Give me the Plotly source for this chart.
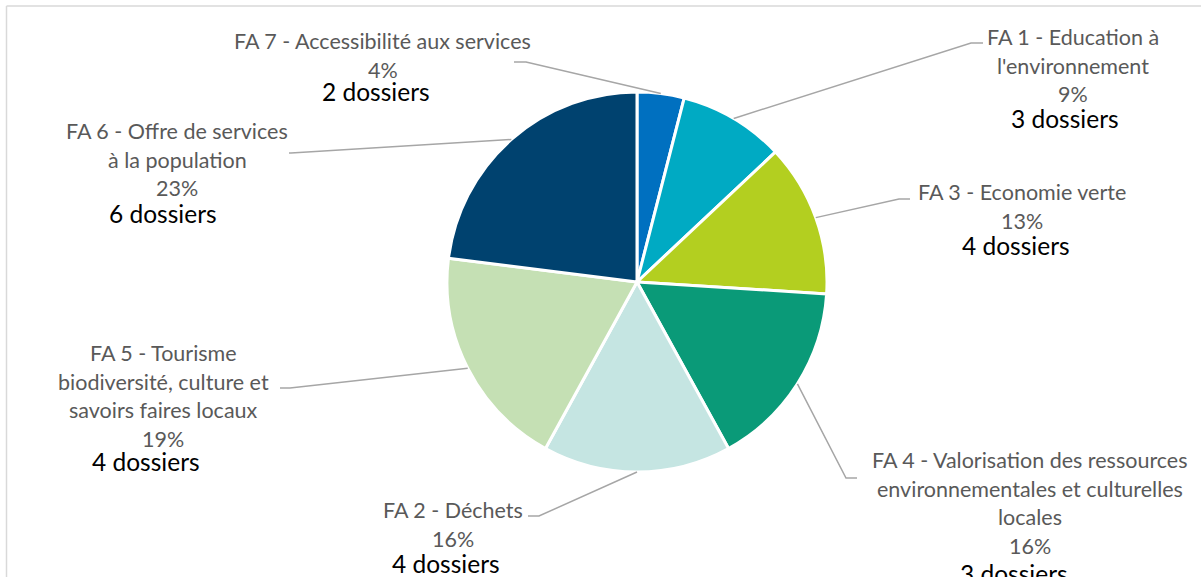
import math
import plotly.graph_objects as go

# ---------------- data ----------------
categories = [
    "FA 7 - Accessibilité aux services",
    "FA 1 - Education à\nl'environnement",
    "FA 3 - Economie verte",
    "FA 4 - Valorisation des ressources\nenvironnementales et culturelles\nlocales",
    "FA 2 - Déchets",
    "FA 5 - Tourisme\nbiodiversité, culture et\nsavoirs faires locaux",
    "FA 6 - Offre de services\nà la population",
]
percents = [4, 9, 13, 16, 16, 19, 23]
dossiers = [2, 3, 4, 3, 4, 4, 6]
colors = ["#0070C0", "#00AAC3", "#B3CF20", "#0A9A78", "#C5E5E2", "#C5E0B4", "#00426F"]

# ---------------- layout (pixels) ----------------
W, H = 1201, 577
CX, CY, R = 637, 282, 190
GRAY = "#595959"
LINE = "#A6A6A6"
FONT = "Lato"

# label block: gray centre x, first gray line y, black centre x, black y, leader (outer x, inner x, y)
label_layout = [
    dict(gx=383, gy=41, bx=376, by=91, lead=(514, 526, 62)),
    dict(gx=1073, gy=37, bx=1065, by=118, lead=(983, 971, 43)),
    dict(gx=1022, gy=192, bx=1016, by=246, lead=(910, 899, 199)),
    dict(gx=1030, gy=460, bx=1014, by=573, lead=(857, 846, 478)),
    dict(gx=453, gy=510, bx=446, by=563, lead=(528, 539, 516)),
    dict(gx=163, gy=353, bx=146, by=461, lead=(280, 290, 388)),
    dict(gx=177, gy=131, bx=163, by=213, lead=(289, 291, 153)),
]
LINE_STEP = 28.7


def px(x):
    return x / W


def py(y):
    return 1 - y / H


fig = go.Figure(
    go.Pie(
        labels=[c.replace("\n", " ") for c in categories],
        values=percents,
        sort=False,
        direction="clockwise",
        rotation=0,
        textinfo="none",
        marker=dict(colors=colors, line=dict(color="white", width=3)),
        domain=dict(x=[px(CX - R), px(CX + R)], y=[py(CY + R), py(CY - R)]),
        showlegend=False,
        hoverinfo="label+percent",
    )
)

annotations = []
shapes = []
total = sum(percents)
cum = 0
for cat, pct, nd, lay in zip(categories, percents, dossiers, label_layout):
    mid = (cum + pct / 2) / total * 2 * math.pi
    cum += pct
    ex = CX + R * math.sin(mid)
    ey = CY - R * math.cos(mid)
    x0, x1, ly = lay["lead"]
    shapes.append(dict(
        type="path", xref="paper", yref="paper",
        path=f"M {px(x0)} {py(ly)} L {px(x1)} {py(ly)} L {px(ex)} {py(ey)}",
        line=dict(color=LINE, width=1.5),
    ))
    lines = cat.split("\n") + [f"{pct}%"]
    for i, t in enumerate(lines):
        annotations.append(dict(
            x=px(lay["gx"]), y=py(lay["gy"] + i * LINE_STEP), xref="paper", yref="paper",
            text=t, showarrow=False, xanchor="center", yanchor="middle",
            font=dict(family=FONT, size=21.5, color=GRAY),
        ))
    annotations.append(dict(
        x=px(lay["bx"]), y=py(lay["by"]), xref="paper", yref="paper",
        text=f"{nd} dossiers", showarrow=False, xanchor="center", yanchor="middle",
        font=dict(family=FONT, size=24.5, color="#000000"),
    ))

# chart area border (top and left edges visible)
shapes.append(dict(type="line", xref="paper", yref="paper", x0=px(6.5), x1=1.0, y0=py(6), y1=py(6),
                   line=dict(color="#D9D9D9", width=1.5)))
shapes.append(dict(type="line", xref="paper", yref="paper", x0=px(6.5), x1=px(6.5), y0=py(6), y1=0,
                   line=dict(color="#D9D9D9", width=1.5)))

fig.update_layout(
    width=W, height=H, autosize=False,
    margin=dict(l=0, r=0, t=0, b=0),
    paper_bgcolor="white", plot_bgcolor="white",
    annotations=annotations, shapes=shapes,
    font=dict(family=FONT),
)

fig.write_html("out.html")
